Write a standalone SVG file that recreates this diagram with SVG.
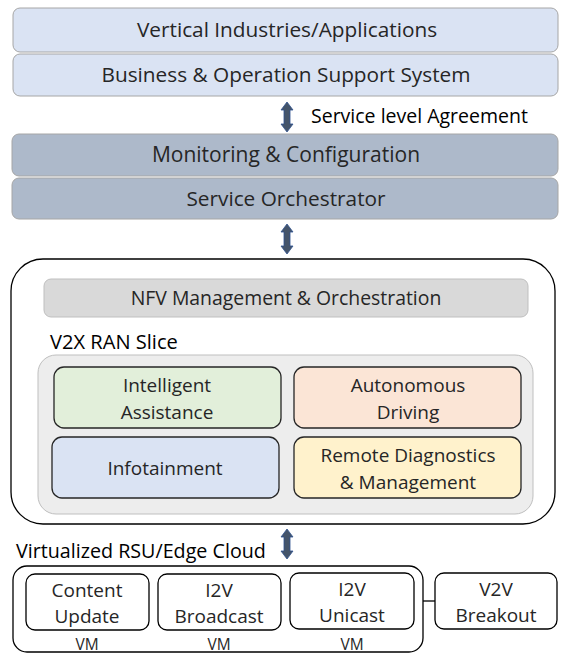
<svg xmlns="http://www.w3.org/2000/svg" width="561" height="654" viewBox="0 0 561 654">
<defs>
<style>
text{font-family:"Open Sans","Liberation Sans",Arial,sans-serif;fill:#262626;text-anchor:middle}
.top{fill:#dae3f3;stroke:#a6a6a6;stroke-width:1}
.mid{fill:#adb9ca;stroke:#a6a6a6;stroke-width:1}
.blk{fill:#ffffff;stroke:#000;stroke-width:1.3}
.arr{fill:#44546a;stroke:#2f528f;stroke-width:0.8}
.lbl{text-anchor:start;fill:#000}
.big{font-size:20.8px}
.med{font-size:19.5px}
.box{font-size:19px}
.vm{font-size:15.5px}
</style>
<path id="dar" d="M0,-15 L6,-7 L3,-7 L3,7 L6,7 L0,15 L-6,7 L-3,7 L-3,-7 L-6,-7 Z"/>
</defs>
<g id="connectors">
<use href="#dar" class="arr" x="287" y="117"/>
<use href="#dar" class="arr" x="287" y="239"/>
<use href="#dar" class="arr" x="287" y="335"/>
<use href="#dar" class="arr" x="287" y="544"/>
<line x1="423" y1="601" x2="435" y2="601" stroke="#000" stroke-width="1.3"/>
</g>
<g id="vertical"><rect class="top" x="13" y="8" width="545" height="44" rx="7"/><text class="big" x="287" y="37">Vertical Industries/Applications</text></g>
<g id="boss"><rect class="top" x="13" y="54" width="545" height="42" rx="7"/><text class="big" x="286" y="82">Business &amp; Operation Support System</text></g>
<text class="lbl med" x="311" y="123">Service level Agreement</text>
<g id="monitoring"><rect class="mid" x="12" y="134" width="546" height="42" rx="7"/><text class="big" x="286" y="162" style="font-size:21px">Monitoring &amp; Configuration</text></g>
<g id="orchestrator"><rect class="mid" x="12" y="178" width="546" height="41" rx="7"/><text class="big" x="286" y="206">Service Orchestrator</text></g>
<g id="ranslice">
<rect class="blk" x="11" y="259" width="544" height="265" rx="32"/>
</g>
<g id="nfv"><rect x="44" y="279" width="484" height="38" rx="7" fill="#d9d9d9" stroke="#bfbfbf"/><text class="med" x="286" y="305" style="font-size:19.4px">NFV Management &amp; Orchestration</text></g>
<text class="lbl" x="50" y="349" style="font-size:20.1px">V2X RAN Slice</text>
<g id="slice"><rect x="38" y="355" width="495" height="159" rx="18" fill="#ededed" stroke="#bfbfbf"/></g>
<g id="intelligent"><rect x="54" y="367" width="227" height="61" rx="10" fill="#e2efda" stroke="#262626" stroke-width="1.3"/><text class="box" x="167" y="392">Intelligent</text><text class="box" x="167" y="419">Assistance</text></g>
<g id="autonomous"><rect x="294" y="367" width="227" height="61" rx="10" fill="#fbe5d6" stroke="#262626" stroke-width="1.3"/><text class="box" x="408" y="392">Autonomous</text><text class="box" x="408" y="419">Driving</text></g>
<g id="infotainment"><rect x="52" y="437" width="227" height="61" rx="10" fill="#dae3f3" stroke="#262626" stroke-width="1.3"/><text class="box" x="165" y="475">Infotainment</text></g>
<g id="remote"><rect x="294" y="437" width="227" height="61" rx="10" fill="#fff2cc" stroke="#262626" stroke-width="1.3"/><text class="box" x="408" y="462">Remote Diagnostics</text><text class="box" x="408" y="489">&amp; Management</text></g>
<text class="lbl" x="16" y="558" style="font-size:19.7px">Virtualized RSU/Edge Cloud</text>
<g id="edge"><rect class="blk" x="13" y="566" width="410" height="86" rx="14"/></g>
<g id="content"><rect class="blk" x="26" y="574" width="123" height="56" rx="9"/><text class="box" x="87" y="597">Content</text><text class="box" x="87" y="623">Update</text><text class="vm" x="87" y="650">VM</text></g>
<g id="broadcast"><rect class="blk" x="158" y="574" width="123" height="56" rx="9"/><text class="box" x="219" y="597">I2V</text><text class="box" x="219" y="623">Broadcast</text><text class="vm" x="219" y="650">VM</text></g>
<g id="unicast"><rect class="blk" x="290" y="573" width="124" height="56" rx="9"/><text class="box" x="352" y="596">I2V</text><text class="box" x="352" y="622">Unicast</text><text class="vm" x="352" y="650">VM</text></g>
<g id="v2v"><rect class="blk" x="435" y="573" width="122" height="56" rx="9"/><text class="box" x="496" y="596">V2V</text><text class="box" x="496" y="622">Breakout</text></g>
</svg>
